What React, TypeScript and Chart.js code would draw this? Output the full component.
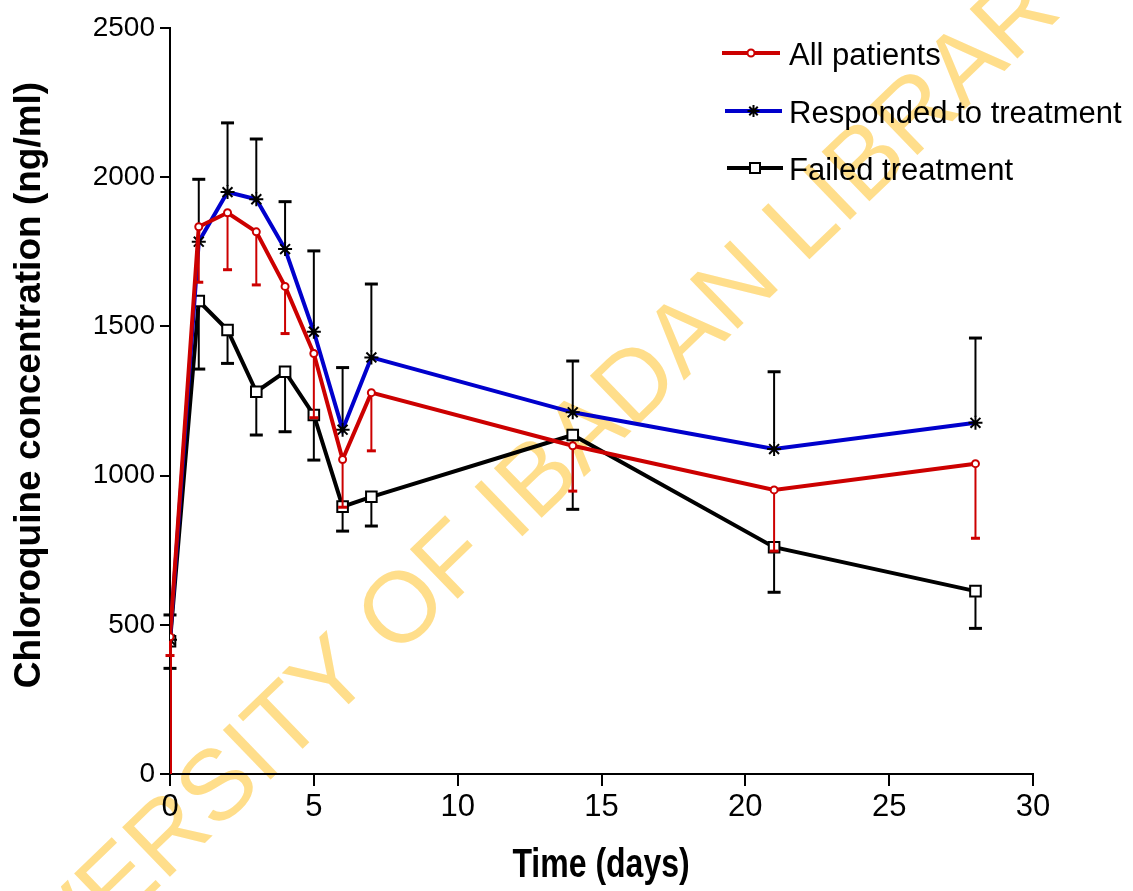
import React, { useEffect, useRef } from 'react';
import { Chart, registerables } from 'chart.js';

Chart.register(...registerables);

// ---- data ----
const days = [0, 0, 1, 2, 3, 4, 5, 6, 7, 14, 21, 28];

const allPatients = [0, 460, 1834, 1881, 1817, 1634, 1409, 1054, 1278, 1100, 952, 1040];
const allPatientsLower = [null, 397, 1648, 1690, 1639, 1476, 1194, 894, 1083, 948, 747, 790];

const responded = [0, 450, 1784, 1950, 1926, 1759, 1482, 1154, 1396, 1212, 1089, 1177];
const respondedUpper = [null, 533, 1993, 2182, 2128, 1918, 1753, 1362, 1642, 1384, 1348, 1461];

const failed = [0, 445, 1585, 1488, 1281, 1348, 1203, 896, 929, 1136, 760, 613];
const failedLower = [null, 354, 1357, 1376, 1136, 1147, 1052, 814, 831, 887, 609, 488];

const seriesLabels = ['All patients', 'Responded to treatment', 'Failed treatment'];
const xTickValues = [0, 5, 10, 15, 20, 25, 30];
const yTickValues = [0, 500, 1000, 1500, 2000, 2500];

const xTitle = 'Time (days)';
const yTitle = 'Chloroquine concentration (ng/ml)';
const watermark = 'UNIVERSITY OF IBADAN LIBRARY';

// ---- styles ----
const RED = '#CC0000';
const BLUE = '#0000CC';
const BLACK = '#000000';
const SANS = "'Liberation Sans', Arial, sans-serif";

const toPoints = (vals: number[]) => vals.map((v, i) => ({ x: days[i], y: v }));
const radii = (r: number) => days.map((_, i) => (i === 0 ? 0 : r));

function drawMarker(ctx: CanvasRenderingContext2D, kind: string, x: number, y: number, color: string) {
  ctx.save();
  ctx.lineWidth = 2;
  if (kind === 'circle') {
    ctx.beginPath();
    ctx.arc(x, y, 3.5, 0, Math.PI * 2);
    ctx.fillStyle = '#fff';
    ctx.fill();
    ctx.strokeStyle = color;
    ctx.stroke();
  } else if (kind === 'star') {
    ctx.strokeStyle = BLACK;
    ctx.beginPath();
    for (let k = 0; k < 4; k++) {
      const a = (k * Math.PI) / 4;
      ctx.moveTo(x - Math.cos(a) * 6, y - Math.sin(a) * 6);
      ctx.lineTo(x + Math.cos(a) * 6, y + Math.sin(a) * 6);
    }
    ctx.stroke();
  } else {
    ctx.fillStyle = '#fff';
    ctx.fillRect(x - 5, y - 5, 10, 10);
    ctx.strokeStyle = BLACK;
    ctx.strokeRect(x - 5, y - 5, 10, 10);
  }
  ctx.restore();
}

const watermarkPlugin = {
  id: 'watermark',
  beforeDraw(chart: any) {
    const ctx = chart.ctx as CanvasRenderingContext2D;
    ctx.save();
    ctx.fillStyle = 'rgba(255, 214, 110, 0.8)';
    ctx.font = `100px ${SANS}`;
    ctx.translate(508, 512);
    ctx.rotate((-44 * Math.PI) / 180);
    ctx.textAlign = 'center';
    ctx.textBaseline = 'middle';
    ctx.fillText(watermark, 0, 0);
    ctx.restore();
  },
};

function drawBars(chart: any, values: number[], ends: (number | null)[], color: string, cap: number, gap: number) {
  const ctx = chart.ctx as CanvasRenderingContext2D;
  const xs = chart.scales.x;
  const ys = chart.scales.y;
  ctx.save();
  ctx.strokeStyle = color;
  for (let i = 0; i < days.length; i++) {
    const e = ends[i];
    if (e === null || e === undefined) continue;
    const px = xs.getPixelForValue(days[i]);
    const py = ys.getPixelForValue(values[i]);
    const pe = ys.getPixelForValue(e);
    const dir = pe > py ? 1 : -1;
    ctx.lineWidth = 2;
    ctx.beginPath();
    ctx.moveTo(px, py + dir * gap);
    ctx.lineTo(px, pe);
    ctx.stroke();
    ctx.lineWidth = 3;
    ctx.beginPath();
    ctx.moveTo(px - cap / 2, pe);
    ctx.lineTo(px + cap / 2, pe);
    ctx.stroke();
  }
  ctx.restore();
}

const errorBarPlugin = {
  id: 'errorBars',
  beforeDatasetsDraw(chart: any) {
    drawBars(chart, failed, failedLower, BLACK, 13, 6);
    drawBars(chart, responded, respondedUpper, BLACK, 13, 6);
  },
  afterDatasetsDraw(chart: any) {
    drawBars(chart, allPatients, allPatientsLower, RED, 9, 4);
  },
};

const decorPlugin = {
  id: 'decor',
  afterDraw(chart: any) {
    const ctx = chart.ctx as CanvasRenderingContext2D;
    // legend
    const rows = [
      { label: seriesLabels[0], color: RED, kind: 'circle', x0: 722, x1: 780, y: 53 },
      { label: seriesLabels[1], color: BLUE, kind: 'star', x0: 725, x1: 782, y: 111 },
      { label: seriesLabels[2], color: BLACK, kind: 'rect', x0: 727, x1: 783, y: 168 },
    ];
    ctx.save();
    rows.forEach((r) => {
      ctx.strokeStyle = r.color;
      ctx.lineWidth = 4;
      ctx.beginPath();
      ctx.moveTo(r.x0, r.y);
      ctx.lineTo(r.x1, r.y);
      ctx.stroke();
      drawMarker(ctx, r.kind, (r.x0 + r.x1) / 2, r.y, r.color);
      ctx.fillStyle = '#000';
      ctx.font = `31px ${SANS}`;
      ctx.textAlign = 'left';
      ctx.textBaseline = 'alphabetic';
      ctx.fillText(r.label, 789, r.y + 12);
    });
    ctx.restore();
    // axis titles
    ctx.save();
    ctx.fillStyle = '#000';
    ctx.textAlign = 'center';
    ctx.textBaseline = 'middle';
    ctx.translate(601, 866);
    ctx.scale(0.8, 1);
    ctx.font = `bold 40px ${SANS}`;
    ctx.fillText(xTitle, 0, 0);
    ctx.restore();
    ctx.save();
    ctx.fillStyle = '#000';
    ctx.textAlign = 'center';
    ctx.textBaseline = 'middle';
    ctx.translate(30, 385);
    ctx.rotate(-Math.PI / 2);
    ctx.font = `bold 37px ${SANS}`;
    ctx.fillText(yTitle, 0, 0);
    ctx.restore();
  },
};

export default function App() {
  const ref = useRef<HTMLCanvasElement | null>(null);

  useEffect(() => {
    if (!ref.current) return;
    const chart = new Chart(ref.current, {
      type: 'line',
      data: {
        datasets: [
          {
            label: seriesLabels[0],
            data: toPoints(allPatients),
            borderColor: RED,
            borderWidth: 4,
            pointStyle: 'circle',
            pointRadius: radii(3.5),
            pointBorderWidth: 2,
            pointBorderColor: RED,
            pointBackgroundColor: '#fff',
            tension: 0,
          },
          {
            label: seriesLabels[1],
            data: toPoints(responded),
            borderColor: BLUE,
            borderWidth: 4,
            pointStyle: 'star',
            pointRadius: radii(7),
            pointBorderWidth: 2,
            pointBorderColor: BLACK,
            pointBackgroundColor: BLACK,
            tension: 0,
          },
          {
            label: seriesLabels[2],
            data: toPoints(failed),
            borderColor: BLACK,
            borderWidth: 4,
            pointStyle: 'rect',
            pointRadius: radii(7.5),
            pointBorderWidth: 2,
            pointBorderColor: BLACK,
            pointBackgroundColor: '#fff',
            tension: 0,
          },
        ],
      },
      options: {
        responsive: false,
        animation: false,
        layout: { padding: { top: 28, right: 100, left: 0, bottom: 0 } },
        plugins: { legend: { display: false }, tooltip: { enabled: false }, title: { display: false } },
        scales: {
          x: {
            type: 'linear',
            min: 0,
            max: 30,
            afterFit: (s: any) => { s.height = 117; },
            afterBuildTicks: (s: any) => { s.ticks = xTickValues.map((v) => ({ value: v })); },
            ticks: { color: '#000', font: { family: SANS, size: 31 }, padding: 3, maxRotation: 0, callback: (v: any) => String(v) },
            grid: { drawOnChartArea: false, drawTicks: true, tickLength: 12, color: '#000', lineWidth: 2 },
            border: { display: true, color: '#000', width: 2 },
          },
          y: {
            type: 'linear',
            min: 0,
            max: 2500,
            afterFit: (s: any) => { s.width = 170; },
            afterBuildTicks: (s: any) => { s.ticks = yTickValues.map((v) => ({ value: v })); },
            ticks: { color: '#000', font: { family: SANS, size: 28 }, padding: 5, callback: (v: any) => String(v) },
            grid: { drawOnChartArea: false, drawTicks: true, tickLength: 10, color: '#000', lineWidth: 2 },
            border: { display: true, color: '#000', width: 2 },
          },
        },
      } as any,
      plugins: [watermarkPlugin, errorBarPlugin, decorPlugin],
    });
    return () => chart.destroy();
  }, []);

  return (
    <div style={{ position: 'fixed', left: 0, top: 0, width: 1133, height: 891, background: '#fff' }}>
      <canvas ref={ref} width={1133} height={891} style={{ display: 'block', width: 1133, height: 891 }} />
    </div>
  );
}
